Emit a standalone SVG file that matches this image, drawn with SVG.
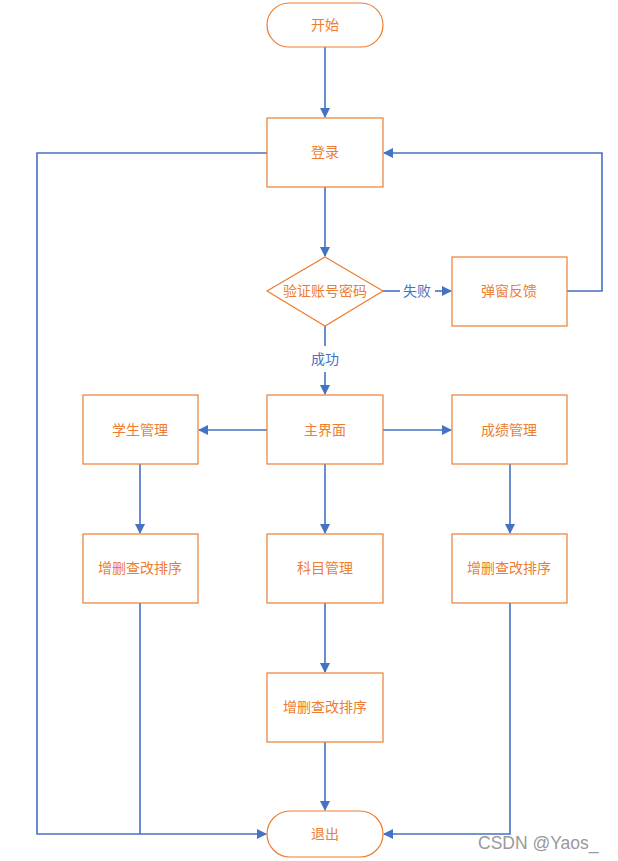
<svg xmlns="http://www.w3.org/2000/svg" width="618" height="861" viewBox="0 0 618 861">
<style>
.n{fill:#fff;stroke:#ED7D31;stroke-width:1.2}
.t{font-family:"Microsoft YaHei","Noto Sans CJK SC",sans-serif;font-size:14px;fill:#ED7D31;text-anchor:middle;dominant-baseline:central}
.c{fill:none;stroke:#4472C4;stroke-width:1.6}
.l{font-family:"Microsoft YaHei","Noto Sans CJK SC",sans-serif;font-size:14px;fill:#4472C4;text-anchor:middle;dominant-baseline:central}
</style>
<defs>
<marker id="a" markerWidth="10" markerHeight="10" refX="9" refY="5" orient="auto" markerUnits="userSpaceOnUse">
<path d="M0,0 L10,5 L0,10 Z" fill="#4472C4"/>
</marker>
</defs>
<rect width="618" height="861" fill="#fff"/>
<g id="connectors">
<path class="c" d="M325,47 V117" marker-end="url(#a)"/>
<path class="c" d="M325,187 V256" marker-end="url(#a)"/>
<path class="c" d="M383,291 H400"/>
<path class="c" d="M435,291 H451" marker-end="url(#a)"/>
<path class="c" d="M567,291 H602 V153 H384" marker-end="url(#a)"/>
<path class="c" d="M325,326 V346"/>
<path class="c" d="M325,372 V394" marker-end="url(#a)"/>
<path class="c" d="M267,430 H199" marker-end="url(#a)"/>
<path class="c" d="M383,430 H451" marker-end="url(#a)"/>
<path class="c" d="M140,464 V533" marker-end="url(#a)"/>
<path class="c" d="M325,464 V533" marker-end="url(#a)"/>
<path class="c" d="M510,464 V533" marker-end="url(#a)"/>
<path class="c" d="M325,603 V672" marker-end="url(#a)"/>
<path class="c" d="M325,742 V810" marker-end="url(#a)"/>
<path class="c" d="M267,153 H37 V834 H266" marker-end="url(#a)"/>
<path class="c" d="M140,603 V834"/>
<path class="c" d="M510,603 V834 H384" marker-end="url(#a)"/>
<text class="l" x="417" y="290">失败</text>
<text class="l" x="325" y="358">成功</text>
</g>
<g id="start"><rect class="n" x="267" y="3" width="116" height="44" rx="22"/><text class="t" x="325" y="24">开始</text></g>
<g id="login"><rect class="n" x="267" y="118" width="116" height="69"/><text class="t" x="325" y="151">登录</text></g>
<g id="verify"><polygon class="n" points="325,257 383,291 325,326 267,291"/><text class="t" x="325" y="290">验证账号密码</text></g>
<g id="popup"><rect class="n" x="452" y="257" width="115" height="69"/><text class="t" x="509" y="290">弹窗反馈</text></g>
<g id="main"><rect class="n" x="267" y="395" width="116" height="69"/><text class="t" x="325" y="429">主界面</text></g>
<g id="student"><rect class="n" x="83" y="395" width="115" height="69"/><text class="t" x="140" y="429">学生管理</text></g>
<g id="grade"><rect class="n" x="452" y="395" width="115" height="69"/><text class="t" x="509" y="429">成绩管理</text></g>
<g id="crud1"><rect class="n" x="83" y="534" width="115" height="69"/><text class="t" x="140" y="567">增删查改排序</text></g>
<g id="subject"><rect class="n" x="267" y="534" width="116" height="69"/><text class="t" x="325" y="567">科目管理</text></g>
<g id="crud3"><rect class="n" x="452" y="534" width="115" height="69"/><text class="t" x="509" y="567">增删查改排序</text></g>
<g id="crud2"><rect class="n" x="267" y="673" width="116" height="69"/><text class="t" x="325" y="706">增删查改排序</text></g>
<g id="exit"><rect class="n" x="267" y="811" width="116" height="46" rx="23"/><text class="t" x="325" y="833">退出</text></g>
<text x="478" y="849" font-family="Liberation Sans,Arial,sans-serif" font-size="17.5" fill="#999">CSDN @Yaos_</text>
</svg>
